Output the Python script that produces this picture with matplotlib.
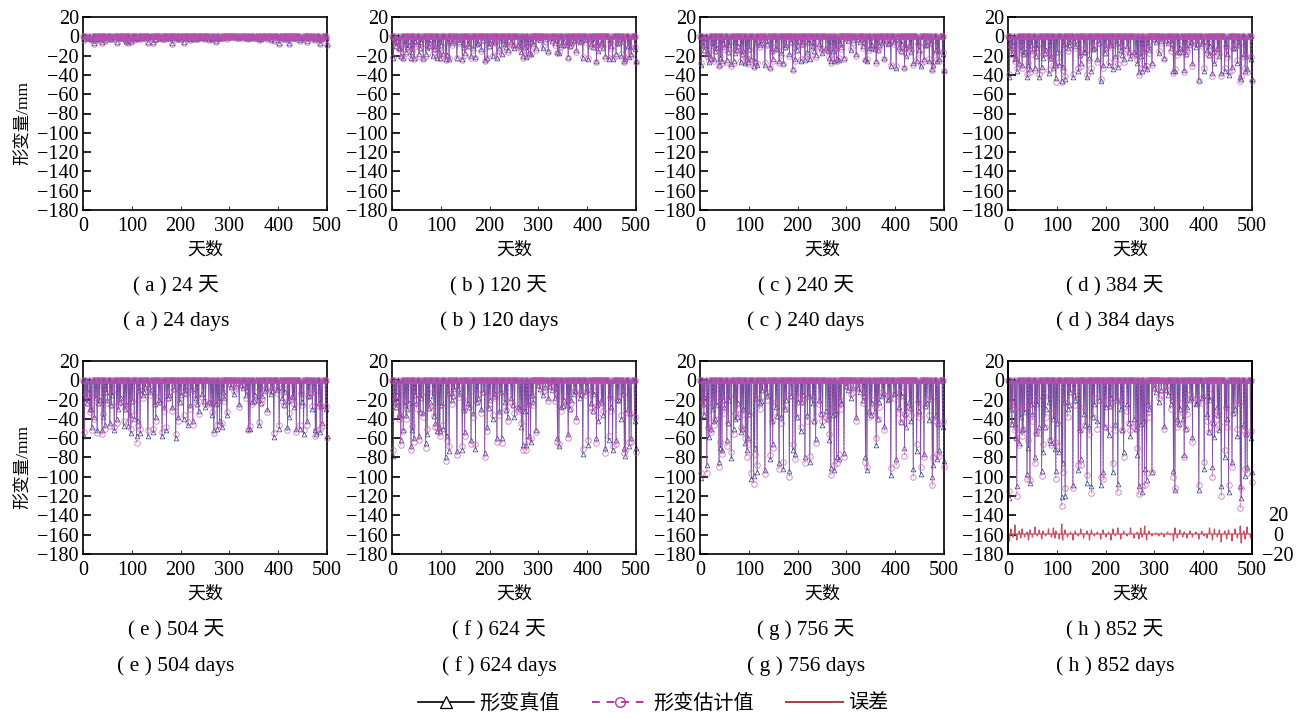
import matplotlib
matplotlib.use('Agg')
import matplotlib.pyplot as plt
from matplotlib.lines import Line2D
import numpy as np

plt.rcParams['font.family'] = ['Liberation Serif', 'Noto Sans CJK SC']
plt.rcParams['axes.unicode_minus'] = True

W, H = 1298, 718

# days where the deep settlement spikes sit, all other days stay at 0
spike_days = [3,6,10,14,18,23,26,29,34,39,
    42,45,50,55,60,64,69,72,77,83,
    89,93,96,98,105,110,112,117,122,128,
    133,138,144,149,155,162,167,171,177,183,
    190,195,201,206,211,215,220,225,231,237,
    244,251,258,265,268,272,275,280,284,289,
    295,303,309,314,320,327,333,339,342,347,
    352,358,361,367,373,378,385,391,397,402,
    408,413,419,423,429,433,437,444,448,452,
    459,465,470,476,478,483,486,490,497,500]

# shallower spikes between them, truth and estimate nearly the same there
small_days = [8,16,31,48,58,75,86,101,115,125,
    136,147,158,174,187,198,209,223,234,247,
    262,278,287,299,324,336,350,364,376,388,
    400,411,421,431,446,462,473,488]

small_a = [-2,-3,-3,-1,-3,-2,-3,-2,-2,-2,
    -1,-3,-2,-2,-1,-3,-2,-2,-3,-2,
    -3,-2,-1,-1,-1,-1,-2,-3,-1,-1,
    -1,-3,-2,-1,-2,-2,-1,-3]
small_b = [-10,-12,-11,-5,-12,-10,-13,-9,-5,-5,
    -3,-11,-10,-8,-4,-10,-6,-4,-11,-9,
    -10,-9,-5,-2,-2,-4,-9,-10,-4,-5,
    -3,-11,-9,-7,-6,-7,-5,-11]
small_c = [-14,-17,-15,-7,-16,-14,-18,-13,-6,-7,
    -4,-15,-13,-11,-6,-14,-8,-6,-15,-12,
    -14,-12,-7,-2,-3,-6,-12,-14,-5,-7,
    -4,-15,-12,-10,-8,-9,-7,-15]
small_d = [-18,-22,-18,-9,-20,-17,-23,-16,-8,-9,
    -5,-19,-16,-13,-7,-17,-9,-7,-19,-16,
    -18,-15,-9,-3,-4,-7,-16,-18,-6,-8,
    -6,-19,-16,-13,-10,-12,-9,-20]
small_e = [-24,-30,-24,-12,-26,-23,-30,-21,-10,-12,
    -7,-25,-22,-18,-9,-23,-13,-9,-25,-21,
    -24,-20,-12,-4,-5,-10,-21,-24,-8,-11,
    -8,-26,-21,-17,-13,-16,-12,-27]
small_f = [-28,-36,-30,-15,-33,-29,-37,-26,-13,-16,
    -9,-31,-28,-23,-12,-29,-16,-12,-31,-26,
    -30,-25,-15,-5,-6,-12,-27,-30,-11,-14,
    -10,-32,-26,-22,-17,-20,-14,-34]
small_g = [-36,-48,-40,-20,-44,-38,-50,-35,-18,-21,
    -12,-42,-37,-30,-16,-38,-22,-16,-42,-35,
    -40,-34,-20,-6,-8,-16,-36,-40,-14,-19,
    -13,-43,-35,-29,-22,-27,-19,-45]
small_h = [-45,-60,-50,-25,-55,-48,-62,-44,-22,-26,
    -15,-52,-46,-38,-20,-48,-27,-20,-52,-44,
    -50,-42,-25,-8,-10,-20,-45,-50,-18,-24,
    -16,-54,-44,-36,-28,-34,-24,-56]

true_a = [-3,-1,-1,-2,-3,-7,-2,-3,-2,-6, -2,-4,-1,-2,-1,-2,-6,-1,-2,-1,
    -5,-6,-2,-5,-3,-2,-2,-2,-1,-1, -6,-1,-6,-3,-1,-2,-3,-1,-2,-7,
    -2,-2,-1,-6,-1,-2,-3,-3,-2,-2, -1,-2,-3,-2,-2,-5,-2,-2,-2,-1,
    -2,-1,-1,-1,-2,-1,-2,-2,-2,-1, -1,-2,-3,-1,-1,-2,-3,-4,-1,-7,
    -2,-1,-2,-7,-2,-2,-2,-4,-2,-2, -5,-1,-2,-3,-2,-2,-7,-2,-2,-8]
est_a = [-4,-1,-2,-3,-4,-8,-2,-4,-2,-7, -3,-5,-2,-3,-1,-3,-7,-2,-2,-1,
    -6,-7,-3,-6,-4,-3,-2,-3,-2,-1, -7,-1,-7,-3,-2,-3,-3,-2,-2,-8,
    -3,-3,-2,-7,-1,-3,-4,-3,-2,-2, -2,-3,-4,-3,-2,-6,-3,-2,-2,-1,
    -3,-1,-1,-2,-2,-2,-2,-3,-2,-1, -2,-2,-4,-2,-1,-3,-4,-5,-1,-8,
    -2,-1,-3,-8,-2,-2,-3,-5,-2,-3, -6,-1,-3,-4,-3,-2,-8,-2,-3,-9]

true_b = [-22,-6,-5,-12,-20,-22,-8,-16,-9,-22, -16,-22,-8,-18,-6,-22,-18,-12,-7,-20,
    -10,-22,-16,-22,-18,-24,-19,-24,-7,-3, -23,-6,-24,-17,-8,-20,-12,-21,-7,-13,
    -25,-22,-7,-20,-5,-22,-12,-18,-8,-14, -6,-12,-9,-16,-20,-11,-21,-17,-18,-8,
    -12,-4,-12,-3,-15,-5,-7,-16,-17,-9, -6,-9,-21,-7,-5,-14,-6,-22,-4,-24,
    -8,-6,-26,-15,-7,-12,-20,-24,-10,-24, -18,-7,-20,-26,-24,-10,-21,-18,-13,-26]
est_b = [-21,-5,-7,-13,-21,-23,-6,-17,-8,-23, -15,-24,-10,-20,-5,-24,-20,-10,-9,-18,
    -12,-21,-18,-23,-16,-25,-21,-22,-9,-2, -22,-7,-25,-19,-7,-22,-14,-22,-5,-15,
    -26,-23,-5,-19,-7,-20,-14,-17,-6,-16, -8,-11,-11,-15,-22,-9,-19,-19,-17,-10,
    -14,-3,-10,-5,-16,-3,-9,-17,-16,-11, -5,-8,-22,-9,-4,-16,-4,-21,-6,-23,
    -10,-5,-27,-13,-9,-10,-22,-22,-12,-22, -20,-5,-18,-27,-22,-12,-19,-20,-11,-27]

true_c = [-30,-9,-6,-18,-27,-22,-10,-24,-12,-30, -22,-26,-11,-25,-9,-29,-26,-17,-10,-27,
    -15,-28,-22,-27,-24,-31,-26,-30,-9,-4, -30,-8,-32,-24,-12,-26,-17,-28,-9,-18,
    -34,-24,-9,-26,-6,-25,-16,-24,-10,-19, -8,-17,-12,-22,-26,-15,-26,-24,-25,-11,
    -22,-5,-14,-4,-18,-6,-10,-24,-26,-12, -9,-13,-26,-9,-7,-22,-8,-31,-6,-33,
    -11,-8,-32,-20,-9,-16,-28,-26,-14,-31, -24,-9,-26,-34,-30,-14,-26,-24,-18,-35]
est_c = [-28,-8,-8,-20,-25,-24,-8,-26,-10,-31, -20,-28,-13,-27,-7,-31,-28,-14,-12,-25,
    -17,-26,-24,-29,-22,-32,-28,-28,-11,-3, -28,-9,-33,-26,-10,-28,-19,-29,-7,-20,
    -35,-26,-7,-24,-8,-23,-18,-22,-8,-21, -10,-15,-14,-20,-28,-13,-24,-26,-23,-13,
    -24,-4,-12,-6,-20,-4,-12,-25,-24,-14, -7,-11,-28,-11,-5,-24,-6,-30,-8,-31,
    -13,-6,-33,-18,-11,-14,-30,-24,-16,-29, -26,-7,-24,-35,-28,-16,-24,-26,-16,-36]

true_d = [-42,-12,-9,-24,-36,-28,-14,-30,-16,-42, -30,-34,-15,-33,-12,-42,-32,-22,-14,-38,
    -20,-33,-28,-43,-30,-46,-32,-44,-12,-6, -42,-10,-36,-28,-16,-42,-22,-36,-12,-24,
    -46,-30,-12,-30,-8,-34,-20,-32,-14,-24, -10,-22,-16,-28,-37,-20,-36,-30,-34,-14,
    -28,-6,-17,-5,-22,-7,-12,-36,-36,-16, -12,-16,-35,-12,-9,-28,-11,-45,-8,-36,
    -14,-10,-38,-28,-12,-20,-38,-36,-18,-40, -32,-12,-28,-42,-44,-18,-36,-34,-24,-44]
est_d = [-39,-10,-12,-26,-33,-30,-11,-33,-14,-39, -28,-37,-18,-35,-10,-39,-35,-18,-17,-35,
    -23,-30,-31,-47,-27,-47,-35,-41,-15,-4, -39,-12,-33,-31,-13,-40,-25,-33,-10,-27,
    -44,-33,-10,-27,-11,-31,-23,-29,-11,-27, -13,-19,-19,-25,-40,-17,-33,-33,-31,-17,
    -30,-4,-15,-7,-24,-5,-15,-38,-34,-19, -10,-13,-37,-15,-7,-31,-8,-46,-10,-33,
    -17,-8,-41,-25,-15,-18,-41,-33,-21,-37, -35,-10,-25,-46,-41,-21,-33,-37,-21,-46]

true_e = [-58,-16,-12,-30,-48,-38,-18,-52,-20,-52, -38,-46,-20,-44,-15,-52,-40,-30,-18,-47,
    -25,-47,-36,-55,-40,-58,-42,-55,-15,-7, -58,-12,-54,-38,-20,-58,-28,-52,-15,-28,
    -60,-38,-15,-40,-10,-46,-26,-42,-18,-32, -14,-28,-22,-36,-52,-25,-50,-42,-48,-18,
    -36,-7,-14,-6,-25,-8,-15,-50,-50,-22, -15,-20,-46,-16,-11,-30,-14,-59,-10,-50,
    -18,-12,-48,-38,-16,-28,-50,-50,-22,-56, -42,-16,-30,-52,-56,-24,-54,-44,-30,-58]
est_e = [-54,-14,-15,-33,-52,-40,-15,-55,-17,-56, -35,-50,-24,-47,-12,-48,-44,-25,-22,-42,
    -28,-43,-40,-50,-36,-65,-46,-50,-18,-5, -52,-15,-50,-42,-16,-54,-32,-48,-12,-32,
    -56,-42,-12,-36,-14,-43,-30,-46,-15,-35, -17,-25,-25,-33,-55,-22,-46,-46,-44,-21,
    -33,-5,-11,-8,-28,-6,-18,-52,-47,-25, -12,-17,-43,-19,-9,-33,-11,-55,-13,-46,
    -21,-10,-52,-34,-19,-25,-54,-46,-26,-52, -46,-13,-27,-58,-52,-27,-50,-47,-27,-60]

true_f = [-78,-22,-15,-35,-62,-51,-26,-36,-24,-68, -52,-60,-24,-58,-18,-34,-65,-56,-22,-16,
    -44,-53,-48,-53,-50,-79,-58,-73,-20,-9, -73,-14,-72,-54,-24,-62,-34,-71,-18,-30,
    -75,-48,-20,-40,-14,-60,-32,-60,-22,-38, -18,-38,-28,-48,-67,-32,-67,-58,-64,-22,
    -51,-9,-15,-7,-18,-10,-18,-60,-68,-28, -20,-26,-56,-20,-14,-38,-18,-76,-12,-67,
    -24,-14,-60,-42,-20,-36,-70,-62,-28,-72, -62,-20,-40,-70,-78,-30,-68,-60,-42,-70]
est_f = [-72,-19,-20,-40,-67,-53,-22,-40,-20,-72, -47,-64,-29,-62,-14,-38,-70,-50,-27,-12,
    -48,-48,-54,-58,-46,-84,-62,-68,-25,-6, -77,-17,-68,-58,-20,-66,-38,-66,-14,-34,
    -80,-53,-16,-36,-18,-64,-36,-65,-18,-42, -22,-34,-32,-44,-72,-28,-72,-62,-60,-26,
    -54,-6,-12,-10,-21,-7,-21,-64,-66,-32, -16,-22,-60,-24,-11,-42,-14,-71,-15,-62,
    -28,-11,-65,-38,-24,-32,-75,-58,-32,-68, -66,-16,-36,-75,-72,-34,-64,-64,-38,-74]

true_g = [-101,-25,-18,-88,-59,-50,-30,-42,-26,-85, -70,-72,-28,-62,-20,-81,-50,-40,-24,-54,
    -30,-65,-72,-60,-102,-99,-70,-95,-24,-10, -93,-16,-82,-66,-28,-86,-38,-92,-20,-94,
    -72,-76,-22,-53,-15,-80,-36,-85,-24,-61, -20,-46,-32,-62,-91,-36,-93,-80,-82,-24,
    -75,-10,-18,-8,-38,-12,-20,-79,-93,-32, -24,-32,-67,-22,-16,-47,-20,-98,-14,-82,
    -28,-16,-70,-48,-22,-42,-92,-73,-32,-97, -76,-24,-41,-100,-88,-36,-82,-72,-48,-84]
est_g = [-96,-22,-24,-96,-52,-54,-25,-46,-22,-90, -64,-76,-34,-68,-16,-74,-56,-34,-30,-48,
    -35,-60,-79,-66,-96,-107,-76,-88,-30,-7, -97,-20,-77,-70,-22,-92,-44,-85,-15,-100,
    -66,-82,-17,-48,-20,-86,-42,-78,-18,-65, -25,-42,-38,-56,-98,-30,-88,-86,-76,-30,
    -80,-7,-14,-12,-42,-8,-24,-85,-90,-38, -20,-27,-60,-28,-12,-52,-15,-91,-18,-88,
    -34,-12,-78,-42,-28,-36,-100,-66,-38,-90, -80,-19,-36,-109,-80,-42,-76,-78,-42,-90]

true_h = [-122,-30,-22,-45,-110,-65,-38,-52,-33,-97, -70,-106,-35,-80,-25,-48,-94,-74,-30,-22,
    -65,-40,-71,-94,-74,-121,-86,-120,-30,-12, -109,-20,-93,-82,-35,-106,-48,-110,-25,-42,
    -108,-95,-28,-57,-18,-95,-45,-107,-30,-74, -25,-58,-40,-77,-110,-45,-116,-92,-103,-30,
    -95,-12,-22,-10,-47,-15,-25,-94,-114,-40, -30,-40,-77,-28,-20,-59,-25,-114,-18,-92,
    -35,-20,-90,-59,-28,-52,-110,-80,-40,-116, -85,-30,-58,-110,-122,-45,-99,-90,-60,-95]
est_h = [-115,-26,-30,-52,-120,-67,-30,-58,-28,-102, -62,-103,-42,-86,-18,-55,-99,-66,-38,-16,
    -67,-34,-64,-102,-68,-130,-95,-112,-38,-8, -112,-26,-88,-88,-28,-98,-56,-117,-18,-50,
    -100,-102,-20,-50,-25,-86,-52,-116,-22,-79, -32,-52,-48,-70,-118,-38,-110,-109,-96,-38,
    -95,-8,-18,-15,-50,-10,-30,-100,-112,-48, -24,-34,-79,-35,-14,-64,-18,-109,-24,-85,
    -42,-14,-100,-50,-35,-45,-120,-72,-48,-109, -90,-24,-50,-132,-112,-52,-92,-96,-53,-105]
# red curve of panel h, read against the small right hand scale
error_h = [-7,5,-3,9,-6,3,-4,5,-3,2, -6,4,-3,7,-2,4,-5,3,-2,5,
    -3,6,-4,3,-5,10,-6,4,-3,2, -6,3,-2,5,-4,3,-6,4,-2,2,
    -5,4,-3,2,-6,5,-2,6,-5,3, -2,6,-4,2,-5,6,-3,8,-6,3,
    -2,1,-2,1,-3,2,-1,-7,6,-4, 4,-3,2,-4,3,-3,2,-5,3,-2,
    -4,6,-6,5,-3,4,-8,3,-5,4, -7,5,-4,8,-9,3,-5,7,-4,6]

panels = [
    ('a', '24', true_a, est_a, small_a), ('b', '120', true_b, est_b, small_b),
    ('c', '240', true_c, est_c, small_c), ('d', '384', true_d, est_d, small_d),
    ('e', '504', true_e, est_e, small_e), ('f', '624', true_f, est_f, small_f),
    ('g', '756', true_g, est_g, small_g), ('h', '852', true_h, est_h, small_h),
]
lefts = [83, 392, 700, 1008]
caption_x = [176, 499, 806, 1115]
tops = [17, 361]
cap_y = [(285, 321), (629, 666)]

TRUE_COL = '#33408c'
EST_COL = '#c052b0'
days = np.arange(0, 501)
# markers on all the spikes, only on every second day along the zero line
mark_at = sorted(set(spike_days) | set(small_days) | set(range(0, 501, 2)))


def series(values, small=None):
    y = np.zeros(501)
    y[spike_days] = values
    if small is not None:
        y[small_days] = small
    return y


fig = plt.figure(figsize=(W / 100, H / 100), dpi=100)

for i, (tag, n, t, e, s_vals) in enumerate(panels):
    row = i // 4
    col = i % 4
    ax = fig.add_axes([lefts[col] / W, 1 - (tops[row] + 193) / H, 244 / W, 193 / H])
    ax.plot(days, series(t, s_vals), color=TRUE_COL, lw=0.5, marker='^', ms=3.4, mfc='none', mew=0.5,
            markevery=mark_at, zorder=2, clip_on=False)
    ax.plot(days, series(e, s_vals), color=EST_COL, lw=0.6, ls=(0, (3, 1.5)), marker='o', ms=4, mfc='none', mew=0.7,
            markevery=mark_at, alpha=0.65, zorder=3, clip_on=False)
    ax.set_xlim(0, 500)
    ax.set_ylim(-180, 20)
    ax.set_xticks(range(0, 501, 100))
    ax.set_yticks(range(-180, 21, 20))
    ax.tick_params(axis='y', direction='in', length=6, width=1.2, labelsize=14.5, pad=3)
    ax.tick_params(axis='x', direction='in', length=3, width=0.6, labelsize=14.5, pad=5)
    for s in ax.spines.values():
        s.set_linewidth(1.2)
    ax.set_xlabel('天数', fontsize=13, labelpad=4)
    if col == 0:
        ax.set_ylabel('形变量/mm', fontsize=12.5, labelpad=4, y=0.45)
    fig.text(caption_x[col] / W, 1 - cap_y[row][0] / H, f'( {tag} ) {n} 天', fontsize=15, ha='center', va='center')
    fig.text(caption_x[col] / W, 1 - cap_y[row][1] / H, f'( {tag} ) {n} days', fontsize=15.5, ha='center', va='center')
    if tag == 'h':
        ax2 = ax.twinx()
        ax2.plot(days, series(error_h), color='#c9505e', lw=0.9)
        ax2.set_ylim(-20, 173)
        ax2.set_yticks([-20, 0, 20])
        ax2.tick_params(axis='y', length=0, labelsize=14.5, pad=18.7)
        for lab in ax2.get_yticklabels():
            lab.set_ha('center')
        for s in ax2.spines.values():
            s.set_linewidth(1.2)

handles = [
    Line2D([], [], color='black', lw=1.2, marker='^', ms=8, mfc='white', mew=0.9),
    Line2D([], [], color='#a83ea0', lw=1.4, ls=(0, (4, 3.5)), marker='o', ms=7, mfc='none', mew=1),
    Line2D([], [], color='#b23a48', lw=1.4),
]
fig.legend(handles, ['形变真值', '形变估计值', '误差'], ncol=3, frameon=False, fontsize=14.5,
           loc='center', bbox_to_anchor=(653 / W, 1 - 704 / H), handlelength=2.8, columnspacing=1.6,
           handletextpad=0.25)

plt.savefig('out.png', dpi=100)
plt.close()
